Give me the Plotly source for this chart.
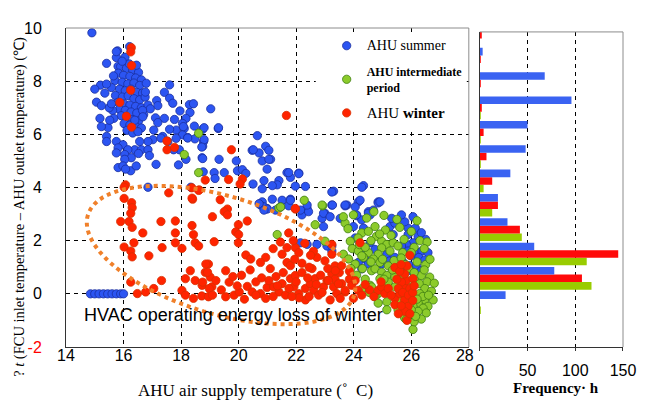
import math
import plotly.graph_objects as go

# ---- scatter data ----
summer_pts = [
    (14.90, 9.82), (15.79, 9.14), (16.21, 9.30), (15.75, 8.89), (15.41, 8.67), (15.81, 8.56), (15.75, 9.11), (16.05, 8.90),
    (15.90, 8.55), (16.10, 8.48), (16.32, 8.42), (16.52, 8.33), (15.82, 8.30), (16.00, 8.22), (16.22, 8.18), (16.42, 8.12),
    (16.62, 8.05), (15.70, 8.02), (15.95, 7.96), (16.15, 7.90), (16.36, 7.93), (16.56, 7.84), (15.58, 7.76), (15.86, 7.70),
    (16.06, 7.64), (16.26, 7.70), (16.46, 7.58), (16.66, 7.55), (15.72, 7.46), (15.96, 7.40), (16.16, 7.45), (16.36, 7.34),
    (16.56, 7.30), (15.80, 7.20), (16.02, 7.14), (16.22, 7.10), (16.42, 7.05), (16.62, 7.00), (15.86, 6.94), (16.06, 6.90),
    (16.26, 6.84), (16.46, 6.80), (16.70, 6.75), (15.92, 6.70), (16.12, 6.60), (16.32, 6.55), (16.52, 6.50), (16.02, 6.40),
    (16.22, 6.35), (16.42, 6.30), (16.62, 6.24), (16.12, 6.15), (16.32, 6.05), (16.50, 6.10), (15.62, 6.90), (15.50, 7.00),
    (15.66, 6.60), (15.46, 6.25), (16.20, 8.65), (15.95, 8.75), (16.45, 8.60), (15.65, 8.20), (16.75, 7.40), (16.85, 7.10),
    (15.35, 7.55), (15.20, 7.85), (15.41, 7.89), (15.00, 7.70), (15.06, 7.21), (15.23, 7.08), (15.58, 7.15), (15.18, 6.60),
    (15.52, 6.53), (15.23, 6.29), (15.41, 5.92), (15.41, 5.73), (15.75, 5.73),
    (16.79, 7.92), (17.60, 7.86), (16.76, 7.59), (17.15, 7.27), (17.42, 7.58), (17.60, 7.36), (17.71, 7.17), (17.19, 7.08),
    (16.93, 6.96), (16.66, 6.90), (18.29, 7.12), (18.43, 7.15), (19.03, 6.96), (17.96, 6.88), (18.31, 6.82), (18.17, 6.60),
    (17.77, 6.56), (17.11, 6.62), (17.42, 6.60), (17.19, 6.44), (16.67, 6.66), (16.39, 6.53), (18.05, 6.41), (17.83, 6.16),
    (18.11, 6.22), (17.60, 6.19), (17.05, 6.16), (17.36, 5.92), (18.05, 5.98), (18.23, 5.88), (18.75, 6.19), (19.29, 6.22),
    (18.78, 5.73), (18.48, 5.83), (17.02, 5.80), (16.85, 5.73), (16.56, 5.73), (16.39, 5.42), (15.98, 5.61), (15.81, 5.49),
    (16.15, 5.42), (15.75, 5.30), (16.04, 5.24), (16.62, 5.42), (16.85, 5.42), (16.52, 5.28), (16.90, 5.20), (16.27, 5.12),
    (16.04, 5.06), (17.13, 4.87), (15.81, 4.75), (15.98, 4.81), (16.25, 4.63), (16.44, 4.81), (16.07, 4.69), (17.83, 5.85),
    (17.94, 5.42), (18.17, 5.06), (17.91, 4.85), (17.54, 5.73), (17.74, 5.42), (17.30, 5.86), (18.75, 5.55), (18.73, 5.12),
    (18.80, 5.80), (18.08, 6.29), (18.46, 6.31), (18.80, 6.25), (19.30, 6.25), (18.23, 5.86), (20.65, 5.95), (18.72, 5.52),
    (20.94, 5.55), (21.05, 5.40), (20.47, 5.40), (20.71, 5.30), (21.11, 5.06), (20.82, 5.00), (18.75, 5.09), (19.32, 5.06),
    (19.92, 5.00), (19.96, 4.63), (20.13, 4.67), (20.25, 4.53), (20.99, 4.69), (19.15, 4.56), (19.50, 4.56), (18.77, 4.59),
    (19.18, 4.34), (21.68, 4.56), (21.80, 4.38), (22.09, 4.54), (21.40, 4.26), (21.34, 4.10), (20.88, 4.26), (20.50, 4.13),
    (20.82, 3.95), (21.17, 4.07), (21.97, 4.05), (22.32, 4.04), (23.30, 3.86), (20.82, 3.46), (21.17, 3.56), (21.51, 3.52),
    (21.80, 3.56), (23.24, 3.34), (23.76, 3.34), (20.76, 3.34), (20.99, 3.21), (22.38, 3.21), (24.16, 3.46), (20.51, 5.42),
    (21.05, 5.06), (21.74, 4.56), (22.09, 4.52), (16.85, 4.01), (18.34, 4.01),
    (24.34, 4.07), (24.22, 3.52), (24.85, 3.46), (23.26, 3.34), (23.00, 3.03), (24.51, 3.09), (24.10, 2.94), (22.90, 2.84),
    (23.53, 2.84), (24.57, 2.97), (23.70, 3.31), (24.51, 3.03), (24.68, 3.15), (24.28, 2.78), (24.10, 2.97), (24.85, 3.42),
    (23.99, 2.53), (24.34, 2.47), (25.26, 2.53), (25.43, 2.66), (25.37, 2.23), (25.89, 2.47), (26.14, 2.47), (26.24, 2.16),
    (26.06, 1.92), (25.83, 1.86), (25.66, 1.80), (25.89, 1.61), (26.14, 1.61), (26.37, 1.61), (26.58, 1.55), (26.00, 1.43),
    (26.26, 1.37), (26.47, 1.27), (25.72, 1.18), (25.95, 1.06), (26.18, 1.06), (26.35, 0.87), (26.06, 0.81), (25.77, 0.87),
    (25.60, 0.99), (24.22, 1.61), (24.39, 1.31), (24.16, 1.18), (24.51, 1.12), (24.28, 0.94), (25.15, 1.49), (25.26, 1.24),
    (25.43, 1.37), (24.97, 1.12), (24.05, 2.10), (24.57, 1.92), (24.74, 1.67), (25.89, 2.23), (25.77, 2.71), (26.06, 2.90),
    (25.32, 2.84), (25.66, 2.97), (20.88, 3.27), (20.99, 3.19), (21.46, 3.27), (21.74, 3.31), (22.20, 2.97), (22.43, 3.09),
    (22.95, 3.03), (22.95, 2.53), (23.18, 2.90), (22.15, 1.92), (22.38, 1.86), (23.24, 1.61), (23.07, 1.80), (20.71, 3.39),
    (20.88, 3.15), (21.28, 3.15), (21.80, 3.52), (22.15, 3.15), (22.38, 3.34), (23.24, 3.83), (22.72, 1.86), (23.24, 1.80),
    (23.70, 3.34), (24.05, 3.27), (24.28, 4.01), (24.91, 3.46), (26.50, 2.05), (26.35, 2.30),
    (14.85, 0.0), (15.00, 0.0), (15.15, 0.0), (15.30, 0.0), (15.45, 0.0), (15.60, 0.0), (15.75, 0.0), (15.90, 0.0), (16.00, 0.0),
]

mid_pts = [
    (18.61, 6.04), (18.11, 5.24), (18.61, 4.56), (22.28, 3.52), (22.92, 3.31), (21.40, 3.23), (24.70, 3.09), (21.34, 2.23),
    (21.46, 3.27), (22.90, 3.34), (23.00, 1.98), (22.66, 2.60), (23.70, 2.66),
    (23.64, 2.90), (23.99, 2.97), (24.45, 2.85), (25.05, 2.95), (25.50, 2.80), (26.20, 2.75),
    (23.80, 2.45), (24.28, 2.29), (24.51, 2.35), (24.74, 2.53), (25.10, 2.40), (25.60, 2.50), (26.00, 2.35),
    (23.88, 1.98), (24.15, 2.10), (24.79, 2.16), (24.97, 1.98), (25.15, 1.86), (25.37, 1.92), (25.54, 1.80), (25.75, 2.05),
    (26.30, 2.00), (26.55, 1.95), (23.64, 1.49), (23.95, 1.70), (24.16, 1.61), (24.51, 1.55), (24.97, 1.73), (25.26, 1.61),
    (24.85, 1.49), (25.70, 1.55), (26.10, 1.75), (26.45, 1.70), (23.82, 1.31), (24.05, 1.12), (24.34, 1.37), (24.28, 1.43),
    (24.68, 1.31), (24.91, 1.18), (25.40, 1.25), (25.65, 1.35), (26.20, 1.20), (26.50, 1.10), (24.30, 0.95), (24.62, 0.87),
    (24.74, 0.94), (24.97, 0.81), (25.15, 0.69), (25.54, 0.81), (25.90, 0.95), (26.35, 0.69), (26.64, 0.63), (26.10, 0.80),
    (24.57, 0.32), (24.91, 0.57), (25.20, 0.44), (25.43, 0.63), (25.66, 0.50), (26.12, 0.50), (26.29, 0.38), (26.55, 0.45),
    (24.40, 0.55), (24.62, 0.26), (24.85, 0.01), (25.43, 0.26), (25.89, 0.26), (26.47, 0.20), (26.29, 0.01), (26.70, 0.10),
    (25.10, 0.15), (24.74, -0.11), (24.85, -0.35), (26.47, -0.23), (26.24, -0.35), (26.76, -0.23), (26.58, -0.47),
    (26.06, -0.47), (25.15, -0.30), (25.60, -0.25), (25.15, -0.60), (25.54, -0.60), (26.41, -0.54), (26.52, -0.72),
    (26.24, -0.66), (25.89, -0.79), (26.00, -0.60), (25.77, -0.91), (25.83, -0.97), (26.06, -1.34), (26.35, -0.95),
    (26.10, -1.05), (24.20, 1.85), (24.60, 2.00), (24.40, 1.75), (25.00, 1.30), (25.20, 1.05), (25.80, 1.10), (26.00, 1.55),
    (25.30, 2.20), (24.90, 2.25), (24.60, 1.20), (25.05, 0.55), (25.35, 0.90), (25.75, 0.70), (26.00, 0.15), (26.40, -0.10),
    (26.60, -0.05), (26.20, -0.20), (26.15, -0.85), (25.95, -0.35), (26.45, 0.90), (26.65, 1.30), (26.80, 0.40),
    (24.55, 0.05), (24.30, 0.20), (24.10, 0.70), (23.90, 0.95),
]

winter_pts = [
    (16.27, 9.26), (16.25, 9.10), (16.28, 8.59), (16.25, 7.66), (15.87, 7.20), (16.10, 6.68), (16.28, 6.27), (17.51, 5.75),
    (17.51, 5.42), (17.77, 5.51), (19.75, 5.42), (21.66, 6.71), (18.84, 4.28), (19.65, 4.30), (20.13, 4.32),
    (20.05, 4.13), (18.37, 3.99), (18.63, 3.91), (18.40, 3.56), (19.36, 3.54), (19.61, 3.19), (21.97, 3.19),
    (16.07, 4.10), (16.02, 4.01), (17.57, 3.80), (18.38, 3.60), (18.61, 3.89), (16.02, 3.59), (16.28, 3.43), (16.30, 3.24),
    (16.25, 3.03), (15.90, 2.72), (16.19, 2.72), (16.30, 2.50), (16.67, 2.29), (17.30, 2.72), (17.80, 2.74), (18.38, 2.57),
    (18.43, 2.23), (17.80, 2.29), (17.80, 1.92), (17.34, 1.74), (18.03, 1.71), (18.49, 1.92), (18.61, 1.80), (16.36, 1.92),
    (16.02, 1.76), (16.25, 1.61), (16.30, 1.39), (16.88, 1.43), (18.95, 1.12), (18.32, 0.87), (18.84, 0.81), (19.01, 0.63),
    (18.15, 0.57), (18.49, 0.50), (18.73, 0.32), (19.07, 0.26), (16.25, 0.44), (17.32, 0.50), (17.05, 0.20), (16.48, 0.01),
    (16.77, 0.07), (18.03, 0.13), (18.15, -0.05), (18.43, -0.17), (18.72, -0.08), (18.95, -0.11),
    (19.50, 3.09), (19.61, 2.97), (19.09, 2.90), (20.30, 2.74), (19.99, 2.60), (19.90, 2.33), (20.00, 2.23), (19.15, 1.96),
    (19.99, 1.92), (21.74, 2.29), (21.97, 3.21), (20.25, 1.46), (20.42, 1.31), (20.94, 1.37), (20.76, 1.18), (21.51, 1.49),
    (21.68, 1.74), (21.97, 1.74), (22.09, 1.55), (21.68, 1.18), (21.80, 1.06), (22.72, 1.37), (23.00, 1.24), (18.86, 1.12),
    (18.92, 0.81), (19.55, 0.87), (19.67, 0.44), (19.21, 0.50), (18.75, 0.44), (18.98, 0.20), (19.09, -0.05), (19.55, -0.11),
    (19.84, -0.05), (20.02, 0.07), (20.30, 0.28), (20.47, 0.07), (20.76, 0.01), (20.94, -0.17), (20.99, 0.24), (21.22, 0.26),
    (21.40, 0.07), (21.63, -0.05), (21.51, 0.38), (21.80, 0.57), (21.97, 0.69), (21.92, 0.26), (22.09, 0.01), (22.32, 0.20),
    (22.49, 0.38), (22.66, 0.57), (22.61, 0.13), (22.78, -0.05), (22.95, 0.26), (23.07, 0.50), (23.24, 0.75), (23.30, 0.26),
    (23.41, 0.01), (23.58, 0.38), (23.70, 0.07), (23.53, -0.17), (23.18, -0.23), (22.32, -0.23),
    (20.60, 0.45), (20.80, 0.60), (21.05, 0.50), (21.30, 0.65), (21.55, 0.80), (21.10, 0.95), (21.35, 0.30), (21.75, 0.20),
    (22.00, 0.45), (22.20, 0.80), (22.40, 0.60), (22.55, 0.95), (22.85, 0.70), (22.70, 0.35), (22.90, 0.05), (23.10, 0.95),
    (23.35, 0.55), (23.50, 0.80), (23.85, 0.55), (22.45, -0.10), (22.10, -0.15), (21.85, -0.10), (21.20, -0.10),
    (20.60, -0.05), (20.20, -0.20), (19.95, 0.30), (19.40, 0.15), (20.40, 0.90), (20.10, 0.70), (19.80, 0.65), (22.20, 1.15),
    (22.45, 1.00), (21.95, 1.30), (22.60, 1.60), (23.35, 1.05), (21.90, 2.00), (21.45, 1.95), (22.30, 1.90), (22.50, 1.45),
    (21.20, 1.70),
    (23.12, 0.50), (23.36, 0.87), (23.24, 1.86), (23.58, 1.06), (23.47, 0.38), (23.70, 0.13), (23.93, 0.32), (24.16, 0.13),
    (24.28, -0.05), (23.99, -0.17), (24.85, 0.13), (24.97, 0.26), (25.08, 0.01), (25.43, -0.17), (25.60, 0.01), (25.72, 0.32),
    (25.83, 0.50), (25.66, 0.44), (25.95, 0.20), (25.77, -0.23), (25.89, -0.47), (25.77, -0.66), (25.43, -0.41), (26.06, 0.57),
    (25.77, 0.75), (25.43, 0.99), (24.22, 1.92), (23.24, 1.49), (25.20, 0.20), (25.30, -0.05), (25.55, 0.20), (25.70, 0.05),
    (25.90, -0.05), (26.05, 0.05), (26.10, 0.30), (25.50, 0.55), (25.60, 0.85), (25.85, 1.05), (25.95, 1.45), (26.05, -0.25),
    (25.65, -0.45), (25.55, -0.75), (25.85, -1.00), (25.95, -0.75), (24.95, 0.45), (24.70, -0.10), (24.55, 0.15),
    (24.40, 0.35), (25.65, 1.10), (23.85, 0.85), (24.05, 0.50),
]

# ---- frequency histogram (hours per 1 degC bin) ----
hist_bins = [10, 9, 8, 7, 6, 5, 4, 3, 2, 1, 0, -1, -2]
summer_freq = [0, 3, 68, 96, 50, 48, 32, 19, 29, 57, 78, 27, 0]
winter_freq = [2, 1, 1, 2, 4, 7, 13, 19, 42, 145, 107, 0, 0]
mid_freq = [0, 0, 0, 1, 1, 1, 4, 13, 44, 112, 117, 1, 0]

x_ticks = [14, 16, 18, 20, 22, 24, 26, 28]
x_ticktext = ["14", "16", "18", "20", "22", "24", "26", "28\u2002"]
y_ticks = [-2, 0, 2, 4, 6, 8, 10]
y_ticktext = ['<span style="color:#ff0000">-2</span>', "0", "2", "4", "6", "8", "10"]
freq_ticks = [0, 50, 100, 150]

TICKFONT = dict(family="Liberation Sans, Arial, sans-serif", size=16, color="black")
SERIF = "Liberation Serif, Times New Roman, serif"
GRID = "4px,4px"

fig = go.Figure()


def add_scatter(pts, name, fill, edge):
    fig.add_trace(go.Scatter(
        x=[p[0] for p in pts], y=[p[1] for p in pts],
        mode="markers", name=name,
        marker=dict(symbol="circle", size=8.3, color=fill, line=dict(color=edge, width=0.8)),
        xaxis="x", yaxis="y",
    ))


add_scatter(summer_pts, '<span style="font-size:14px">AHU summer</span>', "#2c55f2", "#1b2f9e")
add_scatter(mid_pts, '<b>AHU intermediate<br>period</b>', "#8ccb2b", "#3f7f12")
add_scatter(winter_pts, '<span style="font-size:15px">AHU <b>winter</b></span>', "#ff2400", "#d83000")

# histogram bars: trace order bottom -> top inside each group
for freq, col in [(mid_freq, "#99cc00"), (winter_freq, "#ff0a0a"), (summer_freq, "#3a63f2")]:
    fig.add_trace(go.Bar(
        x=freq, y=hist_bins, orientation="h", marker=dict(color=col, line=dict(width=0)),
        xaxis="x2", yaxis="y2", showlegend=False,
    ))

# dotted ellipse around the winter points (built in screen pixels, then mapped to data)
px_per_x, px_per_y = 28.93, 27.09
cx, cy = 19.39, 1.46
a_px, b_px, tilt = 140, 60, math.radians(17)
path = []
for i in range(121):
    t = 2 * math.pi * i / 120
    dx = a_px * math.cos(t) * math.cos(tilt) - b_px * math.sin(t) * math.sin(tilt)
    dy = a_px * math.cos(t) * math.sin(tilt) + b_px * math.sin(t) * math.cos(tilt)
    path.append(("M" if i == 0 else "L") + f"{cx + dx / px_per_x:.4f},{cy - dy / px_per_y:.4f}")
path.append("Z")

shapes = [
    # white legend box (hides the grid)
    dict(type="rect", xref="x", yref="y", x0=22.68, x1=27.93, y0=6.22, y1=9.73,
         fillcolor="white", line=dict(width=0), layer="between"),
    dict(type="path", path=" ".join(path), xref="x", yref="y",
         line=dict(color="#f0802a", width=4, dash="dot"), layer="above"),
    # grey top/right frame lines
    dict(type="line", xref="x domain", yref="y domain", x0=0, x1=1, y0=1, y1=1, line=dict(color="#8c8c8c", width=1)),
    dict(type="line", xref="x domain", yref="y domain", x0=1, x1=1, y0=0, y1=1, line=dict(color="#8c8c8c", width=1)),
    dict(type="line", xref="x2 domain", yref="y2 domain", x0=0, x1=1, y0=1, y1=1, line=dict(color="#8c8c8c", width=1)),
    dict(type="line", xref="x2 domain", yref="y2 domain", x0=1, x1=1, y0=0, y1=1, line=dict(color="#8c8c8c", width=1)),
]

annotations = [
    dict(x=14.55, y=-0.8, xref="x", yref="y", text="HVAC operating energy loss of winter", showarrow=False,
         xanchor="left", yanchor="middle", font=dict(family="Liberation Sans, Arial, sans-serif", size=18, color="black")),
    dict(x=0.341, y=-0.135, xref="paper", yref="paper", text="AHU air supply temperature (\u02da\u2002C)",
         showarrow=False, xanchor="center", yanchor="middle", font=dict(family=SERIF, size=17, color="black")),
    dict(x=0.879, y=-0.128, xref="paper", yref="paper", text="<b>Frequency\u00b7 h</b>",
         showarrow=False, xanchor="center", yanchor="middle", font=dict(family=SERIF, size=15, color="black")),
    dict(x=-0.084, y=0.44, xref="paper", yref="paper", textangle=-90,
         text="? <i>t</i> (FCU inlet temperature \u2013 AHU outlet temperature) (\u2103)",
         showarrow=False, xanchor="center", yanchor="middle", font=dict(family=SERIF, size=14.5, color="black")),
]

# the page body adds an 8px offset, so the figure is 8px smaller than the window
fig.update_layout(
    width=640, height=399,
    margin=dict(l=58, r=22, t=14, b=60),
    paper_bgcolor="white", plot_bgcolor="white",
    barmode="group", bargap=0.07, bargroupgap=0,
    showlegend=True,
    legend=dict(x=0.468, y=0.99, xanchor="left", yanchor="top", bgcolor="rgba(0,0,0,0)",
                font=dict(family=SERIF, size=12, color="black"), itemsizing="trace", tracegroupgap=7),
    xaxis=dict(domain=[0, 0.7232], range=[14, 28], tickvals=x_ticks, ticktext=x_ticktext, tickfont=TICKFONT,
               showgrid=True, gridcolor="black", griddash=GRID, gridwidth=1, zeroline=False,
               showline=True, linecolor="#333333", linewidth=1, ticks="", ticklabelstandoff=-6),
    yaxis=dict(domain=[0, 1], range=[-2, 10], tickvals=y_ticks, ticktext=y_ticktext, tickfont=TICKFONT,
               showgrid=True, gridcolor="black", griddash=GRID, gridwidth=1, zeroline=False,
               showline=True, linecolor="#333333", linewidth=1, ticks="", ticklabelstandoff=20),
    xaxis2=dict(domain=[0.7429, 1], range=[0, 150], tickvals=freq_ticks, tickfont=TICKFONT, anchor="y2",
                showgrid=True, gridcolor="black", griddash=GRID, gridwidth=1, zeroline=False,
                showline=True, linecolor="#333333", linewidth=1, ticks="outside", ticklen=3, tickcolor="#333333",
                ticklabelstandoff=6),
    yaxis2=dict(domain=[0, 0.9877], range=[-2.82, 10.12], anchor="x2", showticklabels=False,
                showgrid=False, zeroline=False, showline=True, linecolor="#333333", linewidth=1, ticks=""),
    shapes=shapes,
    annotations=annotations,
)
for i, tr in enumerate(fig.data[:3]):
    tr.legendgroup = f"g{i}"

fig.write_html("out.html")
